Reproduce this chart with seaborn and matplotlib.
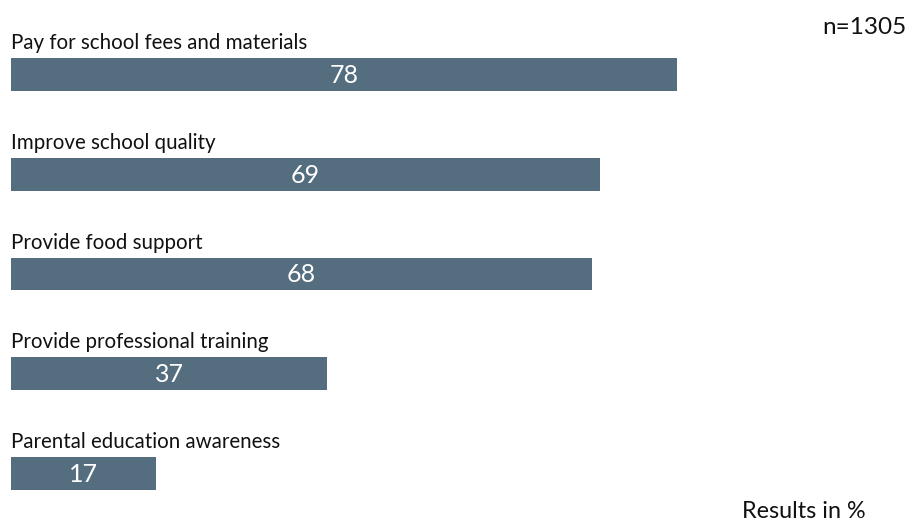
import matplotlib
matplotlib.use("Agg")
import matplotlib.pyplot as plt
import seaborn as sns
import pandas as pd

categories = ["Pay for school fees and materials", "Improve school quality",
              "Provide food support", "Provide professional training",
              "Parental education awareness"]
values = [78, 69, 68, 37, 17]
sample_note = "n=1305"
unit_note = "Results in %"

df = pd.DataFrame({"category": categories, "value": values})

sns.set_theme(style="white")
plt.rcParams["font.family"] = ["Lato", "DejaVu Sans"]

W, H = 910, 521
fig = plt.figure(figsize=(W / 100, H / 100), dpi=100)
ax = fig.add_axes([11 / W, 0, 854 / W, 1])

sns.barplot(data=df, y="category", x="value", orient="h", color="#546e7f",
            width=0.33, saturation=1, linewidth=0, edgecolor="none", ax=ax)

ax.set_xlim(0, 100)
ax.set_ylim(4 + (521 - 473.5) / 99.75, -74.5 / 99.75)
ax.set_axis_off()

for i, (c, v) in enumerate(zip(categories, values)):
    ax.text(0, i - 0.315, c, ha="left", va="center", fontsize=14.8, color="#111111")
    ax.text(v / 2, i + 0.01, str(v), ha="center", va="center", fontsize=18,
            color="white")

fig.text(907 / W, 1 - 28 / H, sample_note, ha="right", va="center", fontsize=17.5,
         color="#111111")
fig.text(866 / W, 1 - 511 / H, unit_note, ha="right", va="center", fontsize=16.8,
         color="#111111")

fig.savefig("out.png", dpi=100)
